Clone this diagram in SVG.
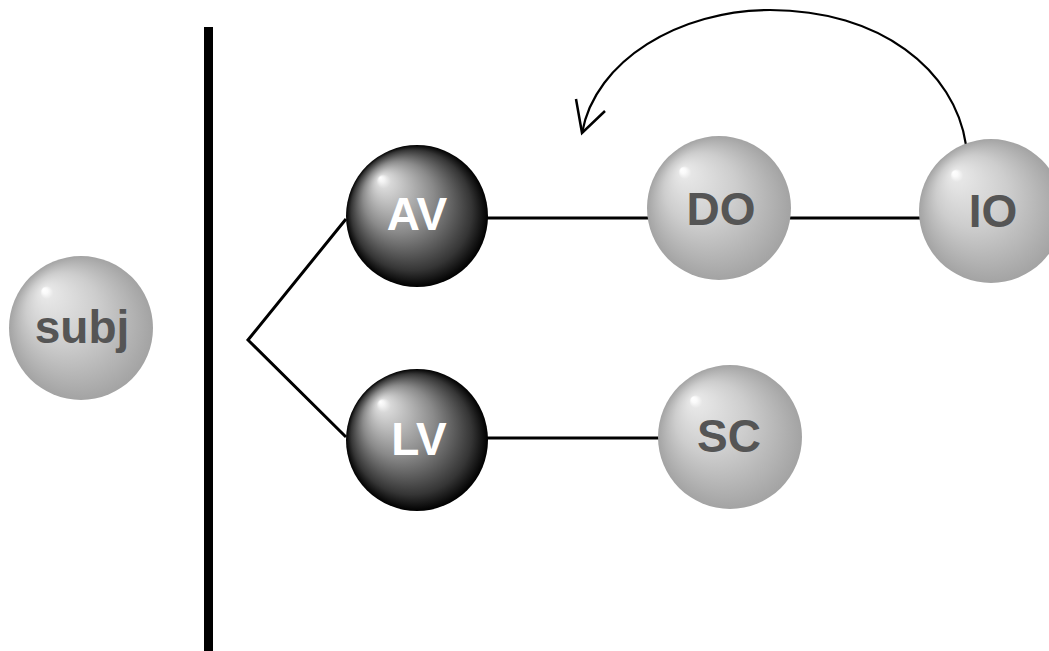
<svg xmlns="http://www.w3.org/2000/svg" width="1049" height="651" viewBox="0 0 1049 651">
<defs>
<radialGradient id="lightBall" cx="0.5" cy="0.5" r="0.5" fx="0.24" fy="0.23">
<stop offset="0" stop-color="#ffffff"/>
<stop offset="0.04" stop-color="#fafafa"/>
<stop offset="0.09" stop-color="#e6e6e6"/>
<stop offset="0.5" stop-color="#cdcdcd"/>
<stop offset="1" stop-color="#a3a3a3"/>
</radialGradient>
<radialGradient id="darkBall" cx="0.5" cy="0.5" r="0.5" fx="0.24" fy="0.23">
<stop offset="0" stop-color="#ffffff"/>
<stop offset="0.04" stop-color="#f4f4f4"/>
<stop offset="0.1" stop-color="#d8d8d8"/>
<stop offset="0.5" stop-color="#8a8a8a"/>
<stop offset="0.85" stop-color="#353535"/>
<stop offset="1" stop-color="#000000"/>
</radialGradient>
</defs>
<style>
.light{fill:url(#lightBall)}
.dark{fill:url(#darkBall)}
.lbl{font-family:"Liberation Sans",Arial,sans-serif;font-weight:bold;font-size:46px;text-anchor:middle}
.lt{fill:#555555}
.dt{fill:#ffffff}
.conn{stroke:#000;stroke-width:3;fill:none}
</style>
<rect width="1049" height="651" fill="#ffffff"/>
<rect x="204" y="27" width="9" height="624" fill="#000"/>
<g id="connectors">
<polyline class="conn" points="346,219 248,340 346,437"/>
<line class="conn" x1="486" y1="218" x2="648" y2="218"/>
<line class="conn" x1="790" y1="218" x2="920" y2="218"/>
<line class="conn" x1="486" y1="438" x2="659" y2="438"/>
<path d="M966,145 C955,70 880,10 770,10 C680,10 595,60 582,133" fill="none" stroke="#000" stroke-width="2.2"/>
<polyline points="576,99 582,133 605,111" fill="none" stroke="#000" stroke-width="2.5" stroke-linejoin="miter"/>
</g>
<g id="node-subj">
<circle class="light" cx="81" cy="328" r="72"/>
<text class="lbl lt" x="82" y="343">subj</text>
</g>
<g id="node-AV">
<circle class="dark" cx="417" cy="216" r="71"/>
<text class="lbl dt" x="417" y="230">AV</text>
</g>
<g id="node-LV">
<circle class="dark" cx="417" cy="440" r="71"/>
<text class="lbl dt" x="419" y="455">LV</text>
</g>
<g id="node-DO">
<circle class="light" cx="719" cy="208" r="72"/>
<text class="lbl lt" x="721" y="225">DO</text>
</g>
<g id="node-IO">
<circle class="light" cx="991" cy="211" r="72"/>
<text class="lbl lt" x="993" y="227">IO</text>
</g>
<g id="node-SC">
<circle class="light" cx="730" cy="437" r="72"/>
<text class="lbl lt" x="729" y="452">SC</text>
</g>
</svg>
